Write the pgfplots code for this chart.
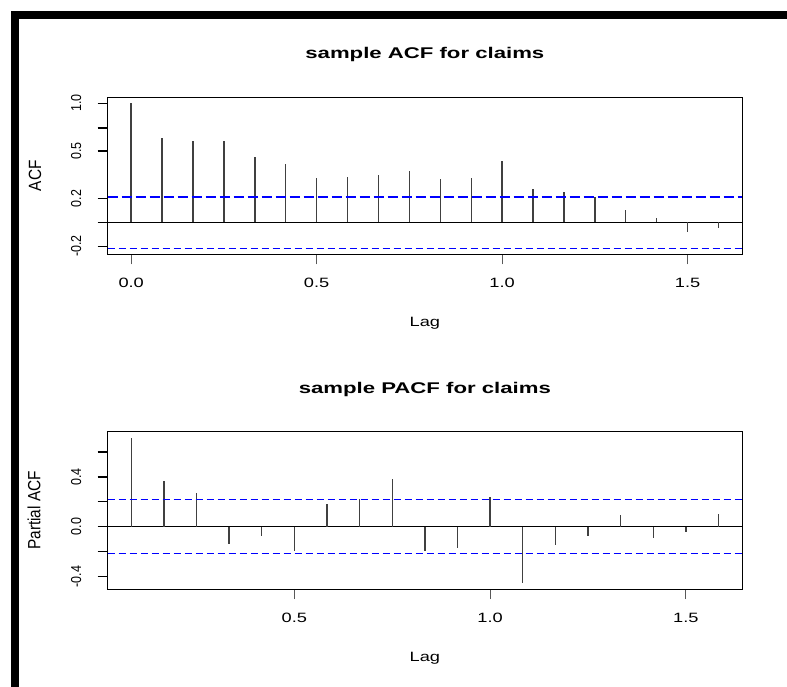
\documentclass[border=0pt]{standalone}
\usepackage{graphicx}
\usepackage{fontspec}
\setmainfont{Liberation Sans}
\newfontfamily\widefont[FakeStretch=1.35]{Liberation Sans}
\newfontfamily\titlefont[FakeStretch=1.43]{Liberation Sans}
\usepackage{pgfplots}
\usepackage{pgfplotstable}
\pgfplotsset{compat=1.18}
\definecolor{rblue}{RGB}{0,0,255}
\newcommand\vs[1]{\scalebox{1}[1.15]{#1}}

\pgfplotstableread{
lag acf
0.00000 1.000
0.08333 0.706
0.16667 0.683
0.25000 0.683
0.33333 0.549
0.41667 0.490
0.50000 0.373
0.58333 0.381
0.66667 0.398
0.75000 0.431
0.83333 0.364
0.91667 0.373
1.00000 0.515
1.08333 0.280
1.16667 0.255
1.25000 0.210
1.33333 0.104
1.41667 0.036
1.50000 -0.078
1.58333 -0.045
}\acftable

\pgfplotstableread{
lag pacf
0.08333 0.717
0.16667 0.365
0.25000 0.268
0.33333 -0.140
0.41667 -0.075
0.50000 -0.196
0.58333 0.180
0.66667 0.220
0.75000 0.381
0.83333 -0.196
0.91667 -0.172
1.00000 0.236
1.08333 -0.454
1.16667 -0.148
1.25000 -0.075
1.33333 0.091
1.41667 -0.091
1.50000 -0.043
1.58333 0.099
}\pacftable

\pgfplotstableread{
x y
0.0233 0.217
1.6433 0.217
}\pacfup
\pgfplotstableread{
x y
0.0233 -0.217
1.6433 -0.217
}\pacflo

\pgfplotsset{
  rplot/.style={
    scale only axis,
    width=634.3pt,
    axis line style={line width=1pt},
    tick align=outside,
    major tick length=10pt,
    xtick pos=bottom, ytick pos=left,
    x tick style={line width=1pt, black!65},
    y tick style={line width=1pt, black},
    xticklabel style={font=\widefont\fontsize{13.5}{16}\selectfont, yshift=-10.5pt},
    yticklabel style={rotate=90, anchor=south, yshift=13pt, font=\fontsize{12.5}{14}\selectfont},
    title style={at={(axis description cs:0.5,1)}, anchor=base, yshift=32.4pt,
      font=\titlefont\bfseries\fontsize{15.5}{18}\selectfont},
    xlabel style={at={(axis description cs:0.5,0)}, anchor=base, yshift=-72.5pt,
      font=\widefont\fontsize{13.5}{16}\selectfont},
    ylabel style={anchor=center, font=\fontsize{15.4}{18}\selectfont},
    clip=false,
  }
}

\begin{document}
\begin{tikzpicture}
\path[use as bounding box] (0,0) rectangle (787pt,-687pt);
\fill[black] (11pt,-11pt) rectangle (19pt,-687pt);
\fill[black] (11pt,-11pt) rectangle (787pt,-19pt);

% ---------------- ACF ----------------
\begin{axis}[rplot,
  at={(107.7pt,-254.3pt)}, anchor=south west,
  height=157pt,
  xmin=-0.0633, xmax=1.6467, ymin=-0.268, ymax=1.049,
  xtick={0,0.5,1,1.5}, xticklabels={0.0,0.5,1.0,1.5},
  ytick={-0.2,0,0.2,1.0}, yticklabels={\vs{-0.2},,\vs{0.2},\vs{1.0}},
  extra y ticks={0.6,0.79}, extra y tick labels={\vs{0.5},},
  extra y tick style={y tick style={line width=2.2pt}},
  title={sample ACF for claims},
  xlabel={Lag},
  ylabel={\vs{ACF}},
  ylabel style={at={(axis description cs:-0.1146,0.5)}},
]
\addplot[black, line width=1pt] coordinates {(-0.0633,0) (1.6467,0)};
\addplot[ycomb, black!75, line width=1.4pt] table[x=lag, y=acf] {\acftable};
\addplot[draw=rblue, line width=2.6pt, dash pattern=on 10pt off 4pt] coordinates {(-0.0633,0.213) (1.6467,0.213)};
\addplot[draw=rblue, line width=1.2pt, dash pattern=on 7pt off 4pt] coordinates {(-0.0633,-0.218) (1.6467,-0.218)};
\end{axis}

% ---------------- PACF ----------------
\begin{axis}[rplot,
  at={(107.7pt,-589pt)}, anchor=south west,
  height=157.3pt,
  xmin=0.0233, xmax=1.6433, ymin=-0.501, ymax=0.764,
  xtick={0.5,1,1.5}, xticklabels={0.5,1.0,1.5},
  ytick={-0.4,-0.2,0,0.2}, yticklabels={\vs{-0.4},,\vs{0.0},},
  extra y ticks={0.4,0.6}, extra y tick labels={\vs{0.4},},
  extra y tick style={y tick style={line width=2.2pt}},
  title={sample PACF for claims},
  xlabel={Lag},
  ylabel={\vs{Partial ACF}},
  ylabel style={at={(axis description cs:-0.1162,0.5)}},
]
\addplot[black, line width=1pt] coordinates {(0.0233,0) (1.6433,0)};
\addplot[ycomb, black!75, line width=1.4pt] table[x=lag, y=pacf] {\pacftable};
\addplot[draw=rblue, line width=1.4pt, dash pattern=on 7pt off 4pt] table[x=x, y=y] {\pacfup};
\addplot[draw=rblue, line width=1.4pt, dash pattern=on 7pt off 4pt] table[x=x, y=y] {\pacflo};
\end{axis}
\end{tikzpicture}
\end{document}
